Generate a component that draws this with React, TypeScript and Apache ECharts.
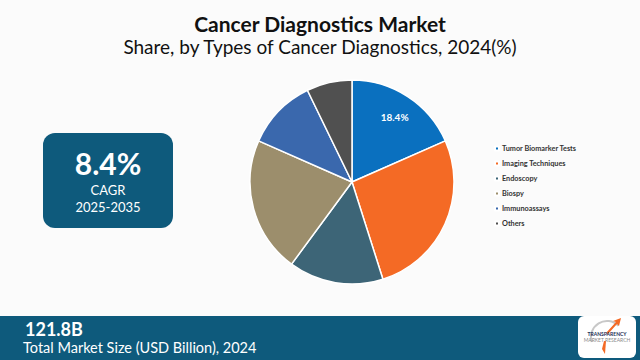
import React, { useEffect, useRef } from "react";
import * as echarts from "echarts";

const categories = [
  "Tumor Biomarker Tests",
  "Imaging Techniques",
  "Endoscopy",
  "Biospy",
  "Immunoassays",
  "Others",
];
const shares = [18.4, 26.7, 15.0, 21.5, 11.2, 7.2];
const colors = ["#0a70bf", "#f46a25", "#3d6577", "#9c8e6c", "#3a68ad", "#505050"];
const titleText = "Cancer Diagnostics Market";
const subtitleText = "Share, by Types of Cancer Diagnostics, 2024(%)";
const cagrValue = "8.4%";
const cagrLabel = "CAGR";
const cagrPeriod = "2025-2035";
const marketSize = "121.8B";
const marketLabel = "Total Market Size (USD Billion), 2024";

export default function App() {
  const ref = useRef<HTMLDivElement>(null);
  useEffect(() => {
    if (!ref.current) return;
    const chart = echarts.init(ref.current, null, { renderer: "svg" });
    const pieData = categories.map((name, i) => ({
      name,
      value: shares[i],
      itemStyle: { color: colors[i] },
    }));
    const labelData = categories.map((name, i) => ({
      name,
      value: shares[i],
      label: { show: i === 0 },
    }));
    chart.setOption({
      animation: false,
      backgroundColor: "#fbfbfb",
      title: [
        {
          text: titleText,
          left: "center",
          top: 8,
          textStyle: { fontFamily: "Lato", fontWeight: "bold", fontSize: 21, color: "#111" },
        },
        {
          text: subtitleText,
          left: "center",
          top: 32,
          textStyle: { fontFamily: "Lato", fontWeight: "normal", fontSize: 19, color: "#111" },
        },
      ],
      legend: {
        orient: "vertical",
        left: 489,
        top: 140,
        itemWidth: 4,
        itemHeight: 4,
        itemGap: 8,
        icon: "rect",
        data: categories,
        textStyle: { fontFamily: "Lato", fontSize: 7.3, fontWeight: "bold", color: "#333", padding: [0, 0, 0, -2] },
      },
      series: [
        {
          type: "pie",
          center: [352, 182],
          radius: [0, 102],
          startAngle: 90,
          clockwise: true,
          label: { show: false },
          labelLine: { show: false },
          itemStyle: { borderColor: "#ffffff", borderWidth: 1.5 },
          data: pieData,
        },
        {
          type: "pie",
          center: [352, 182],
          radius: [48, 102],
          startAngle: 90,
          clockwise: true,
          silent: true,
          legendHoverLink: false,
          itemStyle: { color: "rgba(0,0,0,0)" },
          label: {
            position: "inside",
            formatter: (p: any) => p.value.toFixed(1) + "%",
            color: "#ffffff",
            fontFamily: "Lato",
            fontWeight: "bold",
            fontSize: 10,
          },
          labelLine: { show: false },
          data: labelData,
        },
      ],
      graphic: [
        {
          type: "rect",
          shape: { x: 43, y: 133, width: 130, height: 95, r: 12 },
          style: { fill: "#0e5a7c" },
        },
        {
          type: "text",
          x: 108,
          y: 163,
          style: {
            text: cagrValue,
            fill: "#fff",
            font: "bold 30px Lato",
            textAlign: "center",
            textVerticalAlign: "middle",
          },
        },
        {
          type: "text",
          x: 108,
          y: 190,
          style: { text: cagrLabel, fill: "#fff", font: "13px Lato", textAlign: "center", textVerticalAlign: "middle" },
        },
        {
          type: "text",
          x: 108,
          y: 207,
          style: { text: cagrPeriod, fill: "#fff", font: "13px Lato", textAlign: "center", textVerticalAlign: "middle" },
        },
        {
          type: "rect",
          shape: { x: 0, y: 316, width: 640, height: 44 },
          style: { fill: "#0e5a7c" },
        },
        {
          type: "text",
          x: 25,
          y: 329,
          style: { text: marketSize, fill: "#fff", font: "bold 18px Lato", textVerticalAlign: "middle" },
        },
        {
          type: "text",
          x: 23,
          y: 347,
          style: { text: marketLabel, fill: "#fff", font: "14.5px Lato", textVerticalAlign: "middle" },
        },
        {
          type: "rect",
          shape: { x: 578, y: 316, width: 58, height: 42, r: 6 },
          style: { fill: "#ffffff" },
        },
        {
          type: "arc",
          shape: { cx: 607, cy: 337, r: 16, startAngle: Math.PI * 0.9, endAngle: Math.PI * 1.75 },
          style: { stroke: "#c8c8c8", lineWidth: 2, fill: "none" },
        },
        {
          type: "polygon",
          shape: { points: [[606, 333], [616, 322], [613, 321], [621, 318], [619, 326], [617, 324], [608, 334]] },
          style: { fill: "#f46a25" },
        },
        {
          type: "polygon",
          shape: { points: [[604, 341], [606, 341], [605, 354], [602, 349]] },
          style: { fill: "#f46a25" },
        },
        {
          type: "text",
          x: 607,
          y: 334,
          style: { text: "TRANSPARENCY", fill: "#1d2f55", font: "bold 5px Lato", textAlign: "center", textVerticalAlign: "middle" },
        },
        {
          type: "text",
          x: 607,
          y: 340,
          style: { text: "MARKET RESEARCH", fill: "#8a8a8a", font: "5px Lato", textAlign: "center", textVerticalAlign: "middle" },
        },
      ],
    });
    return () => chart.dispose();
  }, []);
  return <div ref={ref} style={{ width: 640, height: 360, position: "absolute", left: 0, top: 0 }} />;
}
